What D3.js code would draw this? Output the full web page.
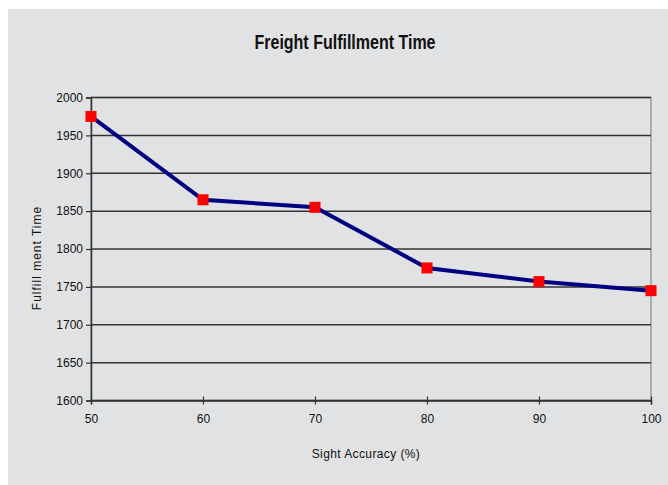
<!DOCTYPE html>
<html><head><meta charset="utf-8">
<script src="https://cdn.jsdelivr.net/npm/d3@7/dist/d3.min.js"></script>
<style>html,body{margin:0;padding:0;background:#fff;}</style>
</head><body>
<svg id="c" width="668" height="485"></svg>
<script>
const accuracy = [50, 60, 70, 80, 90, 100];
const fulfillment = [1975, 1865, 1855, 1775, 1757, 1745];
const yTicks = [1600, 1650, 1700, 1750, 1800, 1850, 1900, 1950, 2000];
const xTicks = [50, 60, 70, 80, 90, 100];

const svg = d3.select("#c");
svg.append("rect").attr("x", 8).attr("y", 9).attr("width", 660).attr("height", 476).attr("fill", "#e1e2e4");

const x = d3.scaleLinear().domain([50, 100]).range([91, 651]);
const y = d3.scaleLinear().domain([1600, 2000]).range([400.5, 97.5]);

// plot border (light gray)
svg.append("rect").attr("x", 91).attr("y", 97.5).attr("width", 560).attr("height", 303)
  .attr("fill", "none").attr("stroke", "#9a9a9a").attr("stroke-width", 1.5);

// gridlines
svg.append("g").selectAll("line").data(yTicks).join("line")
  .attr("x1", 91).attr("x2", 651).attr("y1", d => y(d)).attr("y2", d => y(d))
  .attr("stroke", "#333").attr("stroke-width", 1.5);

// y axis
const ya = svg.append("g").attr("transform", "translate(91,0)")
  .call(d3.axisLeft(y).tickValues(yTicks).tickSize(5).tickPadding(3).tickFormat(d3.format("d")));
ya.select(".domain").attr("stroke", "#333").attr("stroke-width", 1.5);
ya.selectAll(".tick line").attr("stroke", "#333").attr("stroke-width", 1.2);
ya.selectAll("text").attr("font-family", "Liberation Sans, Arial, sans-serif").attr("font-size", 12).attr("fill", "#111");

// x axis
const xa = svg.append("g").attr("transform", `translate(0,${y(1600)})`)
  .call(d3.axisBottom(x).tickValues(xTicks).tickSize(4).tickPadding(10).tickFormat(d3.format("d")));
xa.select(".domain").attr("stroke", "#333").attr("stroke-width", 1.5);
xa.selectAll(".tick line").attr("y1", -4).attr("stroke", "#333").attr("stroke-width", 1.2);
xa.selectAll("text").attr("font-family", "Liberation Sans, Arial, sans-serif").attr("font-size", 12).attr("fill", "#111");

// line
const pts = accuracy.map((a, i) => [a, fulfillment[i]]);
svg.append("path").datum(pts)
  .attr("d", d3.line().x(d => x(d[0])).y(d => y(d[1])))
  .attr("fill", "none").attr("stroke", "#000080").attr("stroke-width", 4);

// markers
svg.append("g").selectAll("rect").data(pts).join("rect")
  .attr("x", d => x(d[0]) - 5.5).attr("y", d => y(d[1]) - 5.5)
  .attr("width", 11).attr("height", 11).attr("fill", "#ff0000");

// title (condensed)
svg.append("text").attr("transform", "translate(345,49) scale(0.8,1)").attr("text-anchor", "middle")
  .attr("font-family", "Liberation Sans, Arial, sans-serif").attr("font-weight", "bold")
  .attr("font-size", 20).attr("fill", "#111")
  .text("Freight Fulfillment Time");

// axis titles
svg.append("text").attr("x", 366).attr("y", 458).attr("text-anchor", "middle")
  .attr("font-family", "Liberation Sans, Arial, sans-serif").attr("font-size", 12)
  .attr("letter-spacing", 0.4).attr("fill", "#111")
  .text("Sight Accuracy (%)");
svg.append("text").attr("transform", "translate(41,258) rotate(-90)").attr("text-anchor", "middle")
  .attr("font-family", "Liberation Sans, Arial, sans-serif").attr("font-size", 12)
  .attr("letter-spacing", 1).attr("fill", "#111")
  .text("Fulfill ment Time");
</script>
</body></html>
